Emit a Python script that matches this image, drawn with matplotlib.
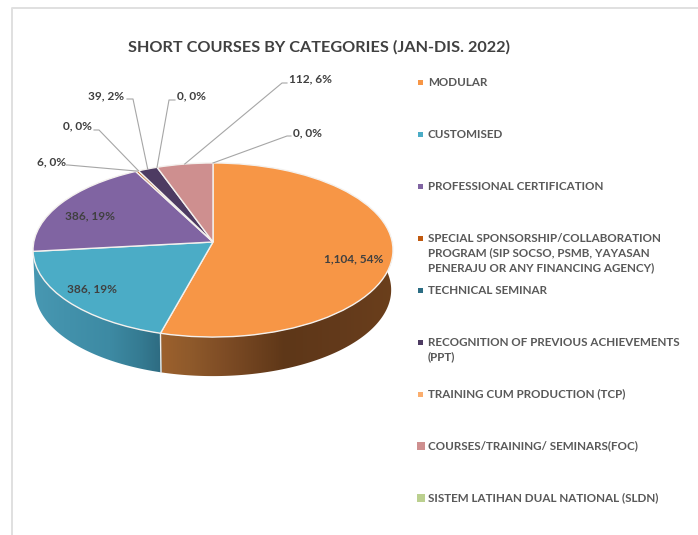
import numpy as np
import matplotlib
matplotlib.use("Agg")
import matplotlib.pyplot as plt
from matplotlib.transforms import Transform
from matplotlib.patches import Rectangle, Polygon

TITLE = "SHORT COURSES BY CATEGORIES (JAN-DIS. 2022)"
categories = ["MODULAR", "CUSTOMISED", "PROFESSIONAL CERTIFICATION",
              "SPECIAL SPONSORSHIP/COLLABORATION\nPROGRAM (SIP SOCSO, PSMB, YAYASAN\nPENERAJU OR ANY FINANCING AGENCY)",
              "TECHNICAL SEMINAR", "RECOGNITION OF PREVIOUS ACHIEVEMENTS\n(PPT)",
              "TRAINING CUM PRODUCTION (TCP)", "COURSES/TRAINING/ SEMINARS(FOC)",
              "SISTEM LATIHAN DUAL NATIONAL (SLDN)"]
values = [1104, 386, 386, 6, 0, 39, 0, 112, 0]
percents = [54, 19, 19, 0, 0, 2, 0, 6, 0]
colors = ["#F79646", "#4BACC6", "#8064A2", "#C0590F", "#2C6D84", "#4D3B62", "#FBAE6E", "#CE8F8F", "#BBD08F"]

W, H = 698, 535
FONT = "Lato"
CX, CY, R, S, K = 213.0, 242.0, 179.2, 86.3, 0.092
DEPTH = 40.0


class Perspective(Transform):
    input_dims = output_dims = 2
    is_separable = False
    has_inverse = False

    def __init__(self, dy=0.0, shrink=1.0):
        super().__init__()
        self.dy, self.shrink = dy, shrink

    def transform_non_affine(self, xy):
        xy = np.asarray(xy, float)
        w = 1 + K * xy[:, 1]
        return np.column_stack([CX + self.shrink * R * xy[:, 0] / w,
                                CY + self.dy - self.shrink * S * xy[:, 1] / w])


fig = plt.figure(figsize=(W / 100, H / 100), dpi=100, facecolor="white")
ax = fig.add_axes([0, 0, 1, 1])
wedges, *_ = ax.pie(values, colors=colors, startangle=90, counterclock=False,
                    radius=1.0, wedgeprops=dict(edgecolor="#F4F1EE", linewidth=1.0))

top = Perspective()
bottom = Perspective(dy=DEPTH, shrink=0.99)
for wedge, val in zip(wedges, values):
    wedge.set_transform(top + ax.transData)
    wedge.set_zorder(5)
    wedge.set_clip_on(False)
    if val == 0:
        wedge.set_visible(False)

# Side wall: a horizontal colour ramp clipped to the wall outline of each slice
wall_shades = {
    0: ([161, 190, 225, 285, 340, 393], ["#9D612E", "#8F5A2B", "#7E4C25", "#5E3718", "#633A1B", "#6B3F1C"]),
    1: ([33, 70, 110, 140, 161], ["#4898B2", "#4291AB", "#3D8AA3", "#357B92", "#2E6B81"]),
}
for i, wedge in enumerate(wedges[:2]):
    xs, cs = wall_shades[i]
    rgb = np.array([matplotlib.colors.to_rgb(c) for c in cs])
    a = np.radians(np.arange(min(wedge.theta1, wedge.theta2), max(wedge.theta1, wedge.theta2) + 0.25, 0.25))
    pts = np.column_stack([np.cos(a), np.sin(a)])
    pts = pts[pts[:, 1] <= 0.12]
    outline = np.vstack([top.transform_non_affine(pts), bottom.transform_non_affine(pts)[::-1]])
    grid = np.arange(xs[0], xs[-1] + 1.0, 1.0)
    ramp = np.stack([np.interp(grid, xs, rgb[:, k]) for k in range(3)], axis=1)[np.newaxis, :, :]
    im = ax.imshow(ramp, extent=(xs[0] - 1, xs[-1] + 1, 385, 240), aspect="auto",
                   interpolation="bilinear", zorder=3)
    clip = Polygon(outline, closed=True, transform=ax.transData, facecolor="none", edgecolor="none")
    ax.add_patch(clip)
    im.set_clip_path(clip)

ax.set_aspect("auto")
ax.set_xlim(0, W)
ax.set_ylim(H, 0)
ax.axis("off")

# Border of the chart frame
ax.plot([11.5, 11.5, W], [H, 7.5, 7.5], color="#E0E0E0", lw=1.4, zorder=1)

# white seam between the two wall colours
seam_angle = np.radians(min(wedges[0].theta1, wedges[0].theta2))
seam = np.array([[np.cos(seam_angle), np.sin(seam_angle)]])
s0, s1 = top.transform_non_affine(seam)[0], bottom.transform_non_affine(seam)[0]
ax.plot([s0[0], s1[0]], [s0[1], s1[1]], color="#EFEFEF", lw=1.0, zorder=4)

ax.text(319.5, 47.5, TITLE, fontfamily=FONT, fontweight="bold", fontsize=11.7, color="#404040",
        ha="center", va="center", zorder=8)


def label(v, p):
    return f"{v:,}, {p}%"


# Labels inside slices
inside = {0: (353.5, 259), 1: (92, 289), 2: (90, 216)}
for i, (x, y) in inside.items():
    ax.text(x, y, label(values[i], percents[i]), fontfamily=FONT, fontweight="bold", fontsize=8.6,
            color="#404040", ha="center", va="center", zorder=8)

# Outside labels with leader lines: slice -> (elbow, line end, text anchor, alignment)
leaders = {
    3: ((68, 165), (66.5, 165), (66, 162), "right"),
    4: ((99, 130), (94, 130), (92, 126), "right"),
    5: ((133, 99), (127, 99), (124.5, 96), "right"),
    6: ((169, 100), (175, 100), (177, 96), "left"),
    7: ((282, 83), (287, 83), (289, 79), "left"),
    8: ((287, 136), (291, 136), (293, 133), "left"),
}
for i, (elbow, end, txt, ha) in leaders.items():
    w = wedges[i]
    ang = np.radians((w.theta1 + w.theta2) / 2)
    st = top.transform_non_affine(np.array([[np.cos(ang), np.sin(ang)]]))[0]
    ax.plot([st[0], elbow[0], end[0]], [st[1], elbow[1], end[1]], color="#A6A6A6", lw=0.8, zorder=6)
    ax.text(txt[0], txt[1], label(values[i], percents[i]), fontfamily=FONT, fontweight="bold",
            fontsize=8.6, color="#404040", ha=ha, va="center", zorder=8)

# Legend
legend_y = [82, 134, 186, 238, 290, 342, 394, 446, 498]
for i, (name, col, y) in enumerate(zip(categories, colors, legend_y)):
    s = 8 if i >= 7 else 5
    ax.add_patch(Rectangle((420.5 - s / 2, y - s / 2), s, s, facecolor=col, edgecolor="none", zorder=8))
    multi = "\n" in name
    ax.text(428, y - 5.5 if multi else y, name, fontfamily=FONT, fontweight="bold", fontsize=8.4,
            color="#595959", ha="left", va="top" if multi else "center", linespacing=1.4, zorder=8)

fig.savefig("out.png", dpi=100, facecolor="white")
